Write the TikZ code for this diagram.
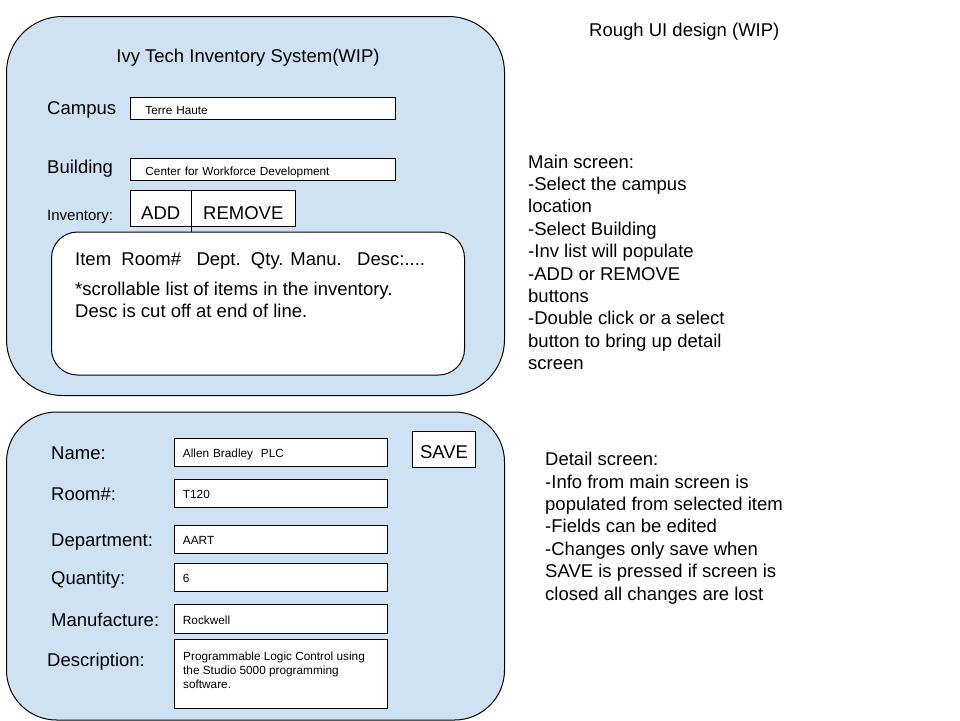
\documentclass[tikz,border=0pt]{standalone}
\usepackage{fontspec}
\setmainfont{Liberation Sans}
\usetikzlibrary{positioning}
\definecolor{uiblue}{HTML}{CFE2F3}
\newcommand\uibig{\fontsize{18.5}{22.6}\selectfont}
\newcommand\uimid{\fontsize{15}{18}\selectfont}
\newcommand\uismall{\fontsize{11.8}{14.3}\selectfont}
\tikzset{screen/.style={draw,fill=uiblue,line width=1pt,
                        rounded corners=56pt,anchor=north west}}
\tikzset{listbox/.style={draw,fill=white,line width=1pt,
                         rounded corners=26pt,anchor=north west}}
\tikzset{fieldbox/.style={draw,fill=white,line width=0.9pt,anchor=north west,
                          align=left,font=\uismall,inner ysep=0pt}}
\tikzset{topfield/.style={fieldbox,text width=235pt,inner xsep=15pt,minimum height=22pt,
                          text height=14pt,text depth=0pt}}
\tikzset{botfield/.style={fieldbox,text width=196pt,inner xsep=8.5pt,minimum height=28.5pt,
                          text height=11pt,text depth=0pt}}
\tikzset{button/.style={draw,fill=white,line width=0.9pt,font=\uibig,
                        inner sep=0pt,outer sep=0pt,anchor=north west,text depth=0pt}}
\tikzset{caption/.style={anchor=base west,inner sep=0pt,font=\uibig}}
% multi-line notes: base anchor sits on the last line
\tikzset{notes/.style={anchor=base west,inner sep=0pt,align=left,font=\uibig}}

\begin{document}
\begin{tikzpicture}[x=1pt,y=-1pt]
    \useasboundingbox (0,0) rectangle (960,720);

    % main screen
    \node[screen,minimum width=498pt,minimum height=379pt] (mainscr) at (6,16) {};
    \node[anchor=base,inner sep=0pt,font=\uibig] (title) at (248,62) {Ivy Tech Inventory System(WIP)};

    \node[caption] (campuslbl) at (47,114) {Campus};
    \node[topfield] (campusbox) at (130,96.5) {Terre Haute};
    \node[caption] (buildlbl) at (47,173) {Building};
    \node[topfield] (buildbox) at (130,157.5) {Center for Workforce Development};

    % inventory list
    \node[caption,font=\uimid] (invlbl) at (47,220.5) {Inventory:};
    \node[listbox,minimum width=413pt,minimum height=143pt] (invlist) at (51,231.5) {};
    \node[button,minimum width=61.5pt,minimum height=36pt,text height=22pt] (addbtn) at (130,190.5) {ADD};
    \node[button,minimum width=103.5pt,minimum height=36pt,text height=22pt,right=0pt of addbtn] (rembtn) {REMOVE};
    \draw[line width=0.9pt] (addbtn.north east) -- (addbtn.north east |- invlist.north);
    \node[notes] (invhead) at (75,265) {Item~~Room\#~~~Dept.~~Qty. Manu.~~~Desc:....};
    \node[notes] (invnote) at (75,317.6) {*scrollable list of items in the inventory.\\Desc is cut off at end of line.};

    % detail screen
    \node[screen,rounded corners=50pt,minimum width=498pt,minimum height=308pt] (detailscr) at (6,411.5) {};
    \foreach \l/\v/\y [count=\i] in {Name:/Allen Bradley~ PLC/437.5,Room\#:/T120/478.5,
            Department:/AART/524.5,Quantity:/6/562.5,Manufacture:/Rockwell/604}{%
        \node[caption] (dlbl\i) at (51,\y+22) {\l};
        \node[botfield] (dval\i) at (174,\y) {\v};
    }
    \node[caption] (desclbl) at (47,666) {Description:};
    \node[fieldbox,text width=196pt,inner xsep=8.5pt,minimum height=69pt] (descbox) at (174,638.5) {};
    \node[notes,font=\uismall] (desctext) at (183,688.6)
        {Programmable Logic Control using\\the Studio 5000 programming\\software.};
    \node[button,minimum width=63pt,minimum height=36pt,text height=18pt] (savebtn) at (412.5,431.5) {SAVE};

    % notes
    \node[caption] (roughlbl) at (589,36.5) {Rough UI design (WIP)};
    \node[notes,font=\fontsize{18.5}{22.4}\selectfont] (mainnotes) at (528,369.6) {Main screen:\\-Select the campus\\location\\-Select Building\\-Inv list will populate\\-ADD or REMOVE\\buttons\\-Double click or a select\\button to bring up detail\\screen};
    \node[notes,font=\fontsize{18.5}{22.4}\selectfont] (detailnotes) at (545,600) {Detail screen:\\-Info from main screen is\\populated from selected item\\-Fields can be edited\\-Changes only save when\\SAVE is pressed if screen is\\closed all changes are lost};
\end{tikzpicture}
\end{document}
